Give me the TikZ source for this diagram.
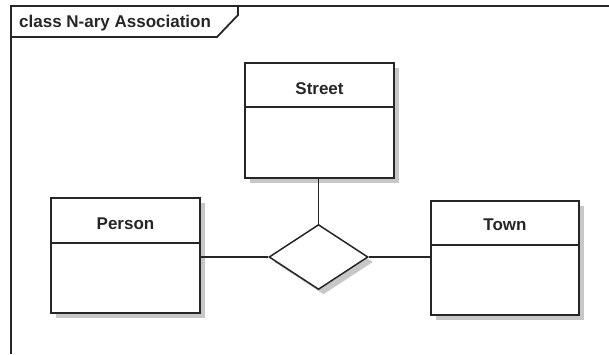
\documentclass[tikz,border=0pt]{standalone}
\usepackage{fontspec}
\setmainfont{Liberation Sans}
\usetikzlibrary{shapes.geometric,shadows}
\begin{document}
\begin{tikzpicture}[x=1pt,y=-1pt,
  edge/.style={line width=1.5pt, draw=black!85},
  classbox/.style={draw=black!85, line width=1.7pt, fill=white, inner sep=0pt,
    drop shadow={shadow xshift=5pt, shadow yshift=-5pt, fill=black!22, opacity=1}},
  assocbox/.style={diamond, draw=black!85, line width=1.5pt, fill=white, inner sep=0pt,
    minimum width=99pt, minimum height=65pt,
    drop shadow={shadow xshift=5pt, shadow yshift=-5pt, fill=black!22, opacity=1}},
  classname/.style={font=\fontsize{17}{19}\selectfont\bfseries, text=black!85, inner sep=0pt},
  framebox/.style={line width=1.8pt, draw=black!85}]
\useasboundingbox (0,0) rectangle (609,354);

% diagram frame and its name tab
\draw[framebox] (609,6) -- (11,6) -- (11,354);
\draw[framebox] (11,37) -- (217,37) -- (238,15) -- (238,6);
\node[classname, anchor=base west] (title) at (19,27) {class N-ary Association};

% classes
\node[classbox, minimum width=149pt, minimum height=115pt] (street) at (319.5,120.5) {};
\node[classbox, minimum width=149pt, minimum height=115pt] (person) at (125.5,255.5) {};
\node[classbox, minimum width=148pt, minimum height=114pt] (town) at (505,258) {};

% name compartments
\draw[edge] ([yshift=-45pt]street.north west) -- ([yshift=-45pt]street.north east);
\draw[edge] ([yshift=-46pt]person.north west) -- ([yshift=-46pt]person.north east);
\draw[edge] ([yshift=-45pt]town.north west) -- ([yshift=-45pt]town.north east);
\node[classname] (streetname) at ([yshift=-26pt]street.north) {Street};
\node[classname] (personname) at ([yshift=-27pt]person.north) {Person};
\node[classname] (townname) at ([yshift=-25pt]town.north) {Town};

% n-ary association diamond
\node[assocbox] (assoc) at (318.5,257) {};

% association ends
\draw[edge] (assoc.north |- street.south) -- (assoc.north);
\draw[edge] (person.east |- assoc.west) -- (assoc.west);
\draw[edge] (assoc.east) -- (assoc.east -| town.west);
\end{tikzpicture}
\end{document}
